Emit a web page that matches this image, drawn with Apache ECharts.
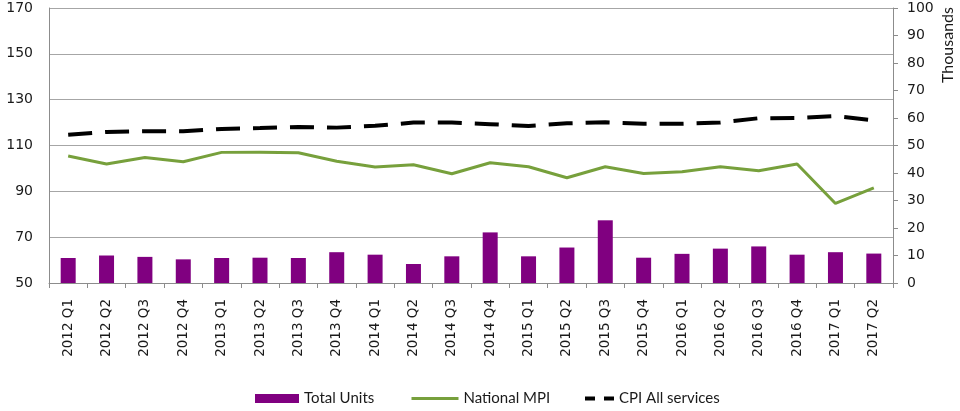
<!DOCTYPE html>
<html>
<head>
<meta charset="utf-8">
<script src="https://cdn.jsdelivr.net/npm/echarts@6/dist/echarts.min.js"></script>
<style>html,body{margin:0;padding:0;background:#fff}#c{width:960px;height:411px}</style>
</head>
<body>
<div id="c"></div>
<script>
const categories = ["2012 Q1","2012 Q2","2012 Q3","2012 Q4","2013 Q1","2013 Q2","2013 Q3","2013 Q4","2014 Q1","2014 Q2","2014 Q3","2014 Q4","2015 Q1","2015 Q2","2015 Q3","2015 Q4","2016 Q1","2016 Q2","2016 Q3","2016 Q4","2017 Q1","2017 Q2"];
const totalUnits = [9.1,10.0,9.5,8.6,9.1,9.2,9.1,11.2,10.3,6.9,9.7,18.4,9.7,12.9,22.8,9.2,10.6,12.5,13.3,10.3,11.2,10.7];
const nationalMPI = [105.4,101.9,104.8,102.9,107.0,107.1,106.8,103.1,100.6,101.6,97.7,102.5,100.7,95.9,100.7,97.8,98.5,100.7,99.0,101.9,84.7,91.5];
const cpiAllServices = [114.7,115.9,116.2,116.2,117.2,117.6,118.1,117.8,118.6,120.0,120.0,119.3,118.5,119.7,120.1,119.5,119.5,120.0,121.9,122.0,122.8,121.0];
const leftTicks = {min:50, max:170, interval:20};
const rightTicks = {min:0, max:100, interval:10};

const axisFont = 'DejaVu Sans';
const legendFont = 'Lato';
const chart = echarts.init(document.getElementById('c'), null, {renderer:'canvas'});
const legendText = {fontFamily: legendFont, fontSize: 15, color: '#1a1a1a'};
chart.setOption({
  animation: false,
  grid: {left: 49, right: 67, top: 8, bottom: 128},
  legend: [
    {left: 250, top: 386, itemWidth: 44, itemHeight: 9, itemGap: 0, textStyle: legendText,
     data: [{name: 'Total Units', icon: 'rect'}]},
    {left: 405, top: 386, itemWidth: 47, itemHeight: 9, itemGap: 0, textStyle: legendText,
     data: [{name: 'National MPI', itemStyle: {opacity: 0}, lineStyle: {width: 3, color: '#77a03c'}}]},
    {left: 578, top: 386, itemWidth: 29, itemHeight: 9, itemGap: 0, textStyle: legendText,
     data: [{name: 'CPI All services', itemStyle: {opacity: 0}, lineStyle: {type: [10, 9], width: 4, color: '#000'}}]}
  ],
  xAxis: {
    type: 'category', data: categories, boundaryGap: true,
    axisLine: {lineStyle: {color: '#8c8c8c', width: 1}},
    axisTick: {show: true, length: 5, lineStyle: {color: '#8c8c8c'}},
    axisLabel: {rotate: 90, margin: 16, fontFamily: axisFont, fontSize: 13.5, color: '#1a1a1a', interval: 0}
  },
  yAxis: [
    {type: 'value', position: 'left', min: leftTicks.min, max: leftTicks.max, interval: leftTicks.interval,
     axisLine: {show: true, lineStyle: {color: '#8c8c8c'}},
     axisTick: {show: false},
     splitLine: {show: true, lineStyle: {color: '#a6a6a6', width: 1}},
     axisLabel: {margin: 16, fontFamily: axisFont, fontSize: 14, color: '#1a1a1a'}},
    {type: 'value', position: 'right', min: rightTicks.min, max: rightTicks.max, interval: rightTicks.interval,
     axisLine: {show: true, lineStyle: {color: '#8c8c8c'}},
     axisTick: {show: true, length: 5, lineStyle: {color: '#8c8c8c'}},
     splitLine: {show: false},
     axisLabel: {margin: 14, fontFamily: axisFont, fontSize: 14, color: '#1a1a1a'}}
  ],
  graphic: [{
    type: 'text', x: 948, y: 45, rotation: Math.PI / 2,
    style: {text: 'Thousands', fontFamily: legendFont, fontSize: 16, fill: '#1a1a1a', align: 'center', verticalAlign: 'middle'}
  }],
  series: [
    {name: 'Total Units', type: 'bar', yAxisIndex: 1, data: totalUnits, barWidth: 15,
     itemStyle: {color: '#800080'}},
    {name: 'National MPI', type: 'line', yAxisIndex: 0, data: nationalMPI, symbol: 'none', showSymbol: false,
     lineStyle: {color: '#77a03c', width: 3}, itemStyle: {color: '#77a03c'}},
    {name: 'CPI All services', type: 'line', yAxisIndex: 0, data: cpiAllServices, symbol: 'none', showSymbol: false,
     lineStyle: {color: '#000', width: 4, type: [24, 13]}, itemStyle: {color: '#000'}}
  ]
});
</script>
</body>
</html>
